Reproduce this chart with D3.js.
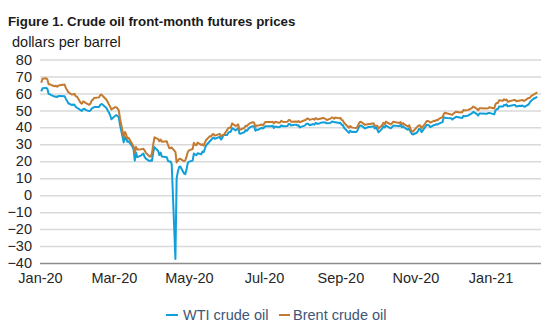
<!DOCTYPE html>
<html>
<head>
<meta charset="utf-8">
<script src="https://cdn.jsdelivr.net/npm/d3@7"></script>
<style>
  html, body { margin: 0; padding: 0; background: #ffffff; }
  svg { display: block; font-family: "Liberation Sans", Arial, sans-serif; }
</style>
</head>
<body>
<svg id="chart" width="550" height="331"></svg>
<script>
// Trading days shared by both contracts
const dates = [
  "2020-01-02","2020-01-03","2020-01-06","2020-01-07","2020-01-08","2020-01-09","2020-01-10","2020-01-13","2020-01-14","2020-01-15","2020-01-16","2020-01-17","2020-01-21","2020-01-22","2020-01-23","2020-01-24","2020-01-27","2020-01-28","2020-01-29","2020-01-30","2020-01-31",
  "2020-02-03","2020-02-04","2020-02-05","2020-02-06","2020-02-07","2020-02-10","2020-02-11","2020-02-12","2020-02-13","2020-02-14","2020-02-18","2020-02-19","2020-02-20","2020-02-21","2020-02-24","2020-02-25","2020-02-26","2020-02-27","2020-02-28",
  "2020-03-02","2020-03-03","2020-03-04","2020-03-05","2020-03-06","2020-03-09","2020-03-10","2020-03-11","2020-03-12","2020-03-13","2020-03-16","2020-03-17","2020-03-18","2020-03-19","2020-03-20","2020-03-23","2020-03-24","2020-03-25","2020-03-26","2020-03-27","2020-03-30","2020-03-31",
  "2020-04-01","2020-04-02","2020-04-03","2020-04-06","2020-04-07","2020-04-08","2020-04-09","2020-04-13","2020-04-14","2020-04-15","2020-04-16","2020-04-17","2020-04-20","2020-04-21","2020-04-22","2020-04-23","2020-04-24","2020-04-27","2020-04-28","2020-04-29","2020-04-30",
  "2020-05-01","2020-05-04","2020-05-05","2020-05-06","2020-05-07","2020-05-08","2020-05-11","2020-05-12","2020-05-13","2020-05-14","2020-05-15","2020-05-18","2020-05-19","2020-05-20","2020-05-21","2020-05-22","2020-05-26","2020-05-27","2020-05-28","2020-05-29",
  "2020-06-01","2020-06-02","2020-06-03","2020-06-04","2020-06-05","2020-06-08","2020-06-09","2020-06-10","2020-06-11","2020-06-12","2020-06-15","2020-06-16","2020-06-17","2020-06-18","2020-06-19","2020-06-22","2020-06-23","2020-06-24","2020-06-25","2020-06-26","2020-06-29","2020-06-30",
  "2020-07-01","2020-07-02","2020-07-06","2020-07-07","2020-07-08","2020-07-09","2020-07-10","2020-07-13","2020-07-14","2020-07-15","2020-07-16","2020-07-17","2020-07-20","2020-07-21","2020-07-22","2020-07-23","2020-07-24","2020-07-27","2020-07-28","2020-07-29","2020-07-30","2020-07-31",
  "2020-08-03","2020-08-04","2020-08-05","2020-08-06","2020-08-07","2020-08-10","2020-08-11","2020-08-12","2020-08-13","2020-08-14","2020-08-17","2020-08-18","2020-08-19","2020-08-20","2020-08-21","2020-08-24","2020-08-25","2020-08-26","2020-08-27","2020-08-28","2020-08-31",
  "2020-09-01","2020-09-02","2020-09-03","2020-09-04","2020-09-08","2020-09-09","2020-09-10","2020-09-11","2020-09-14","2020-09-15","2020-09-16","2020-09-17","2020-09-18","2020-09-21","2020-09-22","2020-09-23","2020-09-24","2020-09-25","2020-09-28","2020-09-29","2020-09-30",
  "2020-10-01","2020-10-02","2020-10-05","2020-10-06","2020-10-07","2020-10-08","2020-10-09","2020-10-12","2020-10-13","2020-10-14","2020-10-15","2020-10-16","2020-10-19","2020-10-20","2020-10-21","2020-10-22","2020-10-23","2020-10-26","2020-10-27","2020-10-28","2020-10-29","2020-10-30",
  "2020-11-02","2020-11-03","2020-11-04","2020-11-05","2020-11-06","2020-11-09","2020-11-10","2020-11-11","2020-11-12","2020-11-13","2020-11-16","2020-11-17","2020-11-18","2020-11-19","2020-11-20","2020-11-23","2020-11-24","2020-11-25","2020-11-27","2020-11-30",
  "2020-12-01","2020-12-02","2020-12-03","2020-12-04","2020-12-07","2020-12-08","2020-12-09","2020-12-10","2020-12-11","2020-12-14","2020-12-15","2020-12-16","2020-12-17","2020-12-18","2020-12-21","2020-12-22","2020-12-23","2020-12-24","2020-12-29","2020-12-30","2020-12-31",
  "2021-01-04","2021-01-05","2021-01-06","2021-01-07","2021-01-08","2021-01-11","2021-01-12","2021-01-13","2021-01-14","2021-01-15","2021-01-19","2021-01-20","2021-01-21","2021-01-22","2021-01-25","2021-01-26","2021-01-27","2021-01-28","2021-01-29",
  "2021-02-01","2021-02-02","2021-02-03","2021-02-04","2021-02-05","2021-02-08"
];

// WTI front-month settlement, $/b
const wti = [
  61.18,63.05,63.27,62.70,59.61,59.56,59.04,58.08,58.23,57.81,58.52,58.54,58.38,56.74,55.59,54.19,53.14,53.48,53.33,52.14,51.56,
  50.11,49.61,50.75,50.95,50.32,49.57,49.94,51.17,51.42,52.05,52.05,53.29,53.78,53.38,51.43,49.90,48.73,47.09,44.76,
  46.75,47.18,46.78,45.90,41.28,31.13,34.36,32.98,31.50,31.73,28.70,26.95,20.37,25.22,22.43,23.36,24.01,24.49,22.60,21.51,20.09,20.48,
  20.31,25.32,28.34,26.08,23.63,25.09,22.76,22.41,20.11,19.87,19.87,18.27,-37.63,10.01,13.78,16.50,16.94,12.78,12.34,15.06,18.84,
  19.78,20.39,24.56,23.99,23.55,24.74,24.14,25.78,25.29,27.56,29.43,31.82,32.50,33.49,33.92,33.25,34.35,32.81,33.71,35.49,
  35.44,36.81,37.29,37.41,39.55,38.19,38.94,39.60,36.34,36.26,37.12,38.38,37.96,38.84,39.75,40.73,40.37,38.01,38.72,38.49,39.70,39.27,
  39.82,40.65,40.63,40.62,40.90,39.62,40.55,40.10,40.29,41.20,40.75,40.59,40.81,41.96,41.90,41.07,41.29,41.60,41.04,41.27,39.92,40.27,
  41.01,41.70,42.19,41.95,41.22,41.94,41.61,42.67,42.24,42.01,42.89,42.89,42.93,42.82,42.34,42.62,43.35,43.39,43.04,42.97,42.61,
  42.76,41.51,41.37,39.77,36.76,38.05,37.30,37.33,37.26,38.28,40.16,40.97,41.11,39.31,39.80,39.93,40.31,40.25,40.60,39.29,40.22,
  38.72,37.05,39.22,40.67,39.95,41.19,40.60,39.43,40.20,41.04,40.96,40.88,40.83,41.46,40.03,40.64,39.85,38.56,39.57,37.39,36.17,35.79,
  36.81,37.66,39.15,38.79,37.14,40.29,41.36,41.45,41.12,40.13,41.34,41.43,41.82,41.74,42.15,43.06,45.91,45.71,45.53,45.34,
  44.55,45.28,45.64,46.26,45.76,45.60,45.52,46.78,46.57,46.99,47.62,47.82,48.36,49.10,47.74,47.02,48.12,48.23,48.00,48.40,48.52,
  47.62,49.93,50.63,50.83,52.24,52.25,53.21,52.91,53.57,52.36,52.98,53.24,53.13,52.27,52.77,52.61,52.85,52.34,52.20,
  53.55,54.76,55.69,56.23,56.85,57.97
];

// Brent front-month settlement, $/b
const brent = [
  66.25,68.60,68.91,68.27,65.44,65.37,64.98,64.20,64.49,64.00,64.62,64.85,65.20,63.21,62.04,60.69,59.32,59.51,59.81,58.29,58.16,
  54.45,53.96,55.28,54.93,54.47,53.27,54.01,55.79,56.34,57.32,57.67,59.12,59.31,58.50,56.30,54.95,53.43,52.18,50.52,
  51.90,51.86,51.13,49.99,45.27,34.36,37.22,35.79,33.22,33.85,30.05,28.73,24.88,28.47,26.98,27.03,27.15,27.39,26.34,24.93,22.76,22.74,
  24.74,29.94,34.11,33.05,31.87,32.84,31.48,31.74,29.60,27.69,27.82,28.08,25.57,19.33,20.37,21.33,21.44,19.99,20.46,22.54,25.27,
  26.44,27.20,30.97,29.72,29.46,30.97,29.63,29.98,29.19,31.13,32.50,34.81,34.65,35.75,36.06,35.13,36.17,34.74,35.29,35.33,
  38.32,39.57,39.79,39.99,42.30,40.80,41.18,41.73,38.55,38.73,39.72,40.96,40.71,41.51,42.19,43.08,42.63,40.31,41.05,41.02,41.71,41.15,
  42.03,43.14,43.10,43.08,43.29,42.35,43.24,42.72,42.90,43.79,43.37,43.14,43.28,44.32,44.29,43.31,43.34,43.41,43.22,43.75,42.94,43.30,
  44.15,44.43,45.17,45.09,44.40,44.99,44.50,45.43,44.96,44.80,45.37,45.46,45.37,44.90,44.35,45.13,45.86,45.64,45.09,45.81,45.28,
  45.58,44.43,44.07,42.66,39.78,40.79,40.06,39.83,39.61,40.53,42.22,43.30,43.15,41.44,41.72,41.77,41.94,41.92,42.43,41.03,40.95,
  40.93,39.27,41.29,42.65,41.99,43.34,42.85,41.72,42.45,43.32,43.16,42.93,42.62,43.16,41.73,42.46,41.77,40.46,41.20,39.12,37.65,37.46,
  39.97,40.71,41.23,40.93,39.45,42.40,43.61,43.80,43.53,42.78,43.82,43.75,44.34,44.20,44.96,46.06,47.86,48.61,48.18,47.59,
  47.42,48.25,48.71,49.25,48.79,48.84,48.86,50.25,49.97,50.29,50.76,51.08,51.50,52.26,50.91,50.08,51.20,51.29,51.09,51.34,51.80,
  51.09,53.60,54.30,54.38,55.99,55.66,56.58,56.06,56.42,55.10,55.90,56.08,56.10,55.41,55.88,55.91,56.11,55.53,55.88,
  57.35,57.46,58.46,58.84,59.34,60.56
];

const yTicks = [-40, -30, -20, -10, 0, 10, 20, 30, 40, 50, 60, 70, 80];
const xTickDates = ["2020-01-01","2020-03-01","2020-05-01","2020-07-01","2020-09-01","2020-11-01","2021-01-01"];
const xDomain = ["2020-01-01", "2021-02-11"];

const series = [
  { name: "WTI crude oil", values: wti, color: "#119fd9" },
  { name: "Brent crude oil", values: brent, color: "#c47a30" }
];

const parse = d3.timeParse("%Y-%m-%d");
const svg = d3.select("#chart");

const plot = { left: 40, right: 541, top: 59.5, bottom: 263 };

const x = d3.scaleTime()
  .domain(xDomain.map(parse))
  .range([plot.left, plot.right]);

const y = d3.scaleLinear()
  .domain([-40, 80])
  .range([plot.bottom, plot.top]);

// Title and unit label
svg.append("text")
  .attr("x", 8).attr("y", 26)
  .attr("font-size", "13.3px").attr("font-weight", "bold")
  .attr("fill", "#1a1a1a")
  .text("Figure 1. Crude oil front-month futures prices");

svg.append("text")
  .attr("x", 12).attr("y", 47)
  .attr("font-size", "14.5px")
  .attr("fill", "#1a1a1a")
  .text("dollars per barrel");

// Horizontal gridlines with value labels
const yAxis = d3.axisLeft(y)
  .tickValues(yTicks)
  .tickSize(-(plot.right - plot.left))
  .tickPadding(8)
  .tickFormat(d3.format("d"));

const gy = svg.append("g")
  .attr("transform", `translate(${plot.left},0)`)
  .call(yAxis);
gy.select(".domain").remove();
gy.selectAll(".tick line")
  .attr("stroke", d => d === -40 ? "#8c8c8c" : "#d9d9d9")
  .attr("stroke-width", 1.5);
gy.selectAll(".tick text")
  .attr("font-size", "14.5px")
  .attr("font-family", "Liberation Sans, Arial, sans-serif")
  .attr("fill", "#262626");

// Date labels along the bottom
const xAxis = d3.axisBottom(x)
  .tickValues(xTickDates.map(parse))
  .tickSize(0)
  .tickPadding(10)
  .tickFormat(d3.timeFormat("%b-%y"));

const gx = svg.append("g")
  .attr("transform", `translate(0,${plot.bottom})`)
  .call(xAxis);
gx.select(".domain").remove();
gx.selectAll(".tick text")
  .attr("font-size", "14.5px")
  .attr("font-family", "Liberation Sans, Arial, sans-serif")
  .attr("fill", "#262626");

// Price lines
const line = d3.line()
  .x((d, i) => x(parse(dates[i])))
  .y(d => y(d));

svg.append("g")
  .selectAll("path")
  .data(series)
  .join("path")
  .attr("fill", "none")
  .attr("stroke", d => d.color)
  .attr("stroke-width", 2)
  .attr("stroke-linejoin", "round")
  .attr("d", d => line(d.values));

// Legend
const legendItems = [
  { x: 166, lineW: 12, textX: 183 },
  { x: 279, lineW: 11, textX: 293 }
];
const legend = svg.append("g");
series.forEach((s, i) => {
  const li = legendItems[i];
  legend.append("line")
    .attr("x1", li.x).attr("x2", li.x + li.lineW)
    .attr("y1", 315).attr("y2", 315)
    .attr("stroke", s.color).attr("stroke-width", 2);
  legend.append("text")
    .attr("x", li.textX).attr("y", 320)
    .attr("font-size", "14.5px")
    .attr("fill", "#3e5677")
    .text(s.name);
});
</script>
</body>
</html>
